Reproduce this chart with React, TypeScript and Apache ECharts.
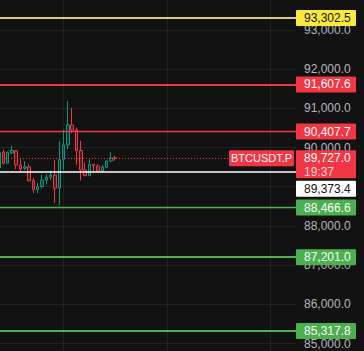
import React, { useEffect, useRef } from "react";
import * as echarts from "echarts";

// ---- data ----
const categories = Array.from({ length: 70 }, (_, i) => `${i}`);
const opens = [89478, 89880, 89600, 89862, 89915, 89555, 89470, 89505, 89154, 88929, 89005, 89171, 89235, 89299, 88960, 89700, 90064, 90575, 90447, 89919, 89427, 89281, 89572, 89529, 89401, 89496, 89656, 89735];
const closes = [89873, 89597, 89878, 89924, 89554, 89452, 89505, 89154, 88929, 89005, 89171, 89235, 89299, 88960, 89700, 90064, 90575, 90447, 89919, 89427, 89281, 89572, 89529, 89401, 89496, 89656, 89735, 89727];
const lows = [89427, 89567, 89580, 89835, 89444, 89363, 89426, 89128, 88840, 88827, 88954, 89056, 89171, 88592, 88534, 89427, 89955, 90363, 89554, 89154, 89270, 89270, 89383, 89383, 89368, 89470, 89638, 89664];
const highs = [89937, 89937, 89898, 90039, 89937, 89733, 89656, 89572, 89222, 89095, 89299, 89325, 89409, 89682, 90166, 90447, 91187, 91016, 90506, 90174, 89613, 89700, 89580, 89572, 89554, 89682, 89878, 89784];

const levelValues = [93302.5, 91607.6, 90407.7, 89373.4, 88466.6, 87201.0, 85317.8];
const lastPrice = 89727.0;
const countdown = "19:37";
const symbolName = "BTCUSDT.P";
const yMin = 84000;
const yMax = 94000;
const yStep = 1000;

// ---- styles ----
const BG = "#121212";
const GRID = "#222222";
const AXIS_TEXT = "#b2b5be";
const FONT = "Liberation Sans";
const UP = "#089981";
const DOWN = "#f23645";
const RED = "#f23645";
const GREEN = "#4caf50";
const levelStyles = [
  { line: "#d9c97c", width: 2, bg: "#fbe83c", text: "#131313" },
  { line: RED, width: 2, bg: RED, text: "#ffffff" },
  { line: RED, width: 1.4, bg: RED, text: "#ffffff" },
  { line: "#ffffff", width: 1.5, bg: "#ffffff", text: "#131313" },
  { line: GREEN, width: 1.4, bg: GREEN, text: "#ffffff" },
  { line: GREEN, width: 2, bg: GREEN, text: "#ffffff" },
  { line: GREEN, width: 2, bg: GREEN, text: "#ffffff" },
];

const fmt = (v: number) =>
  v.toLocaleString("en-US", { minimumFractionDigits: 1, maximumFractionDigits: 1 });

export default function App() {
  const ref = useRef<HTMLDivElement>(null);
  useEffect(() => {
    document.body.style.margin = "0";
    document.body.style.background = BG;
    const chart = echarts.init(ref.current!, null, { renderer: "svg" });
    const markData: any[] = levelValues.map((v, i) => ({
      yAxis: v,
      lineStyle: { color: levelStyles[i].line, width: levelStyles[i].width, type: "solid" },
    }));
    markData.push({ yAxis: lastPrice, lineStyle: { color: RED, width: 1.2, type: [1, 2] } });

    chart.setOption({
      animation: false,
      backgroundColor: BG,
      grid: {
        left: -1,
        right: 68,
        top: -9.3,
        bottom: -31.7,
        containLabel: false,
        outerBoundsMode: "none",
      },
      xAxis: {
        type: "category",
        data: categories,
        boundaryGap: false,
        axisLine: { show: false },
        axisTick: { show: false },
        axisLabel: { show: false },
        splitLine: {
          show: true,
          interval: (i: number) => i % 24 === 15,
          lineStyle: { color: GRID, width: 1 },
        },
      },
      yAxis: {
        type: "value",
        position: "right",
        min: yMin,
        max: yMax,
        interval: yStep,
        axisLine: { show: false },
        axisTick: { show: false },
        axisLabel: {
          color: AXIS_TEXT,
          fontSize: 12,
          fontFamily: FONT,
          margin: 8,
          formatter: fmt,
          showMinLabel: false,
          showMaxLabel: false,
        },
        splitLine: { show: true, lineStyle: { color: GRID, width: 1 } },
      },
      series: [
        {
          type: "candlestick",
          data: opens.map((o, i) => [o, closes[i], lows[i], highs[i]]),
          barWidth: 3,
          itemStyle: {
            color: "rgba(8,153,129,0.25)",
            color0: "rgba(242,54,69,0.25)",
            borderColor: UP,
            borderColor0: DOWN,
            borderWidth: 1,
          },
          emphasis: { disabled: true },
          markLine: {
            symbol: ["none", "none"],
            silent: true,
            animation: false,
            label: { show: false },
            emphasis: { disabled: true },
            data: markData,
          },
        },
      ],
    });

    const toY = (v: number) => chart.convertToPixel({ yAxisIndex: 0 }, v) as number;
    const xRight = chart.convertToPixel({ xAxisIndex: 0 }, categories.length - 1) as number;
    const boxW = 60;
    const boxH = 16;
    type Box = { top: number; h: number; bg: string; color: string; lines: string[] };
    const boxes: Box[] = levelValues.map((v, i) => ({
      top: toY(v) - boxH / 2,
      h: boxH,
      bg: levelStyles[i].bg,
      color: levelStyles[i].text,
      lines: [fmt(v)],
    }));
    const py = toY(lastPrice);
    boxes.push({ top: py - boxH / 2, h: 28, bg: RED, color: "#ffffff", lines: [fmt(lastPrice), countdown] });
    boxes.sort((a, b) => a.top - b.top);
    for (let i = 1; i < boxes.length; i++) {
      const prevBottom = boxes[i - 1].top + boxes[i - 1].h;
      if (boxes[i].top < prevBottom + 2) boxes[i].top = prevBottom + 2.5;
    }
    const elements: any[] = [];
    boxes.forEach((b) => {
      elements.push({
        type: "rect",
        z: 100,
        shape: { x: xRight, y: b.top, width: boxW, height: b.h, r: 1 },
        style: { fill: b.bg },
      });
      b.lines.forEach((t, k) => {
        elements.push({
          type: "text",
          z: 101,
          style: {
            text: t,
            x: xRight + 8,
            y: b.top + 8 + k * 13.5,
            fill: k === 0 ? b.color : "rgba(255,255,255,0.8)",
            font: `12px "${FONT}"`,
            align: "left",
            verticalAlign: "middle",
          },
        });
      });
    });
    elements.push({
      type: "rect",
      z: 100,
      shape: { x: xRight - 67, y: py - 8, width: 65, height: 16, r: 1 },
      style: { fill: RED },
    });
    elements.push({
      type: "text",
      z: 101,
      style: {
        text: symbolName,
        x: xRight - 34.5,
        y: py,
        fill: "#ffffff",
        font: `11px "${FONT}"`,
        align: "center",
        verticalAlign: "middle",
      },
    });
    chart.setOption({ graphic: elements });
    return () => chart.dispose();
  }, []);
  return (
    <div
      ref={ref}
      style={{ position: "fixed", left: 0, top: 0, width: 364, height: 351, background: BG }}
    />
  );
}
